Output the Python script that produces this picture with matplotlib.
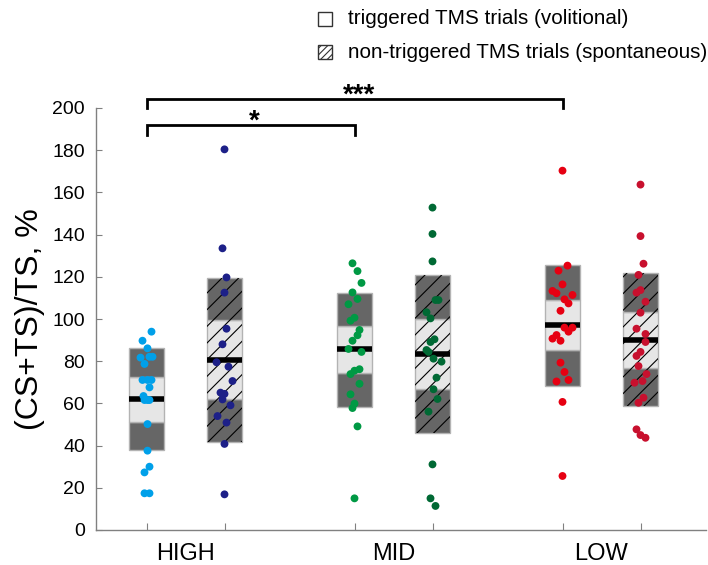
import matplotlib
matplotlib.use("Agg")
import matplotlib.pyplot as plt
from matplotlib.patches import Rectangle
import numpy as np

plt.rcParams['font.family'] = ['Liberation Sans', 'DejaVu Sans']
plt.rcParams['hatch.linewidth'] = 0.8

# ---------------- data ----------------
categories = ["HIGH", "MID", "LOW"]
conditions = ["triggered TMS trials (volitional)", "non-triggered TMS trials (spontaneous)"]

# box summaries: [outer low, inner low, centre, inner high, outer high]
high_trig_box = [37.9, 51.3, 62.1, 72.7, 86.4]
high_non_box = [41.6, 61.9, 80.7, 99.5, 119.6]
mid_trig_box = [58.4, 74.3, 85.6, 96.7, 112.5]
mid_non_box = [46.1, 66.7, 83.4, 99.8, 120.7]
low_trig_box = [68.2, 85.2, 97.0, 109.0, 125.4]
low_non_box = [58.8, 76.9, 90.2, 103.5, 121.6]

# individual subject values
high_trig = [94.0, 89.7, 86.1, 81.7, 82.1, 82.1, 78.7, 71.1, 71.1, 71.1, 67.6,
             63.5, 61.6, 61.6, 61.6, 50.2, 37.6, 30.0, 27.3, 17.4, 17.4]
high_non = [180.4, 133.5, 119.7, 112.5, 95.4, 88.0, 79.5, 77.4, 70.6, 65.1, 64.5,
            61.9, 59.1, 54.0, 50.9, 40.8, 16.9]
mid_trig = [126.4, 122.7, 117.1, 112.6, 109.5, 107.0, 100.6, 99.2, 94.8, 92.3, 89.7,
            85.8, 84.4, 76.2, 75.5, 73.9, 69.3, 64.3, 59.9, 57.8, 49.1, 15.0]
mid_non = [152.8, 140.3, 127.3, 109.0, 109.0, 103.2, 100.3, 90.4, 89.1, 85.3, 84.4,
           81.2, 79.8, 72.2, 66.7, 62.1, 56.1, 31.1, 15.0, 11.4]
low_trig = [170.3, 125.3, 122.9, 116.4, 113.3, 112.2, 111.4, 109.3, 107.4, 103.9, 95.9,
            95.9, 94.0, 92.4, 90.7, 89.7, 79.3, 74.9, 71.1, 70.4, 60.7, 25.6]
low_non = [163.7, 139.3, 126.2, 120.9, 113.7, 112.5, 108.2, 103.0, 95.4, 92.9, 89.1,
           84.4, 82.5, 77.7, 73.9, 70.6, 69.8, 62.7, 60.3, 47.7, 45.0, 43.7]

# horizontal jitter of each dot (pixels)
high_trig_jit = [5, -4, 1, -6, 3, 6, -2, -4, 1, 5, 3, -3, -2, 3, 1, 1, 1, 3, -2, -2, 3]
high_non_jit = [0, -2, 2, 0, 2, -2, -8, 4, 8, -4, 0, -2, 6, -7, 2, 0, 0]
mid_trig_jit = [-2, 3, 7, -2, 3, -6, 0, -4, 5, 3, -2, -6, 7, 5, 0, -4, 5, -4, 0, -2, 3, 0]
mid_non_jit = [0, 0, 0, 3, 6, -6, -2, 2, -2, -6, -4, 1, 9, 4, 1, 5, -4, 0, -2, 3]
low_trig_jit = [0, 5, -4, 0, -10, -6, 10, 2, 6, -2, 2, 10, 6, -6, -10, -2, -2, 2, 6, -6, 0, 0]
low_non_jit = [0, 0, 3, -2, 0, -4, 5, 0, -4, 5, 5, 0, -4, -2, 6, 2, -6, 3, -2, -4, 0, 5]

dot_colors = ["#00a0e9", "#1d2088", "#009944", "#006934", "#e60012", "#c8102e"]

groups = [
    (0, 0, high_trig_box, high_trig, high_trig_jit),
    (0, 1, high_non_box, high_non, high_non_jit),
    (1, 0, mid_trig_box, mid_trig, mid_trig_jit),
    (1, 1, mid_non_box, mid_non, mid_non_jit),
    (2, 0, low_trig_box, low_trig, low_trig_jit),
    (2, 1, low_non_box, low_non, low_non_jit),
]

# ---------------- figure ----------------
W, H = 708, 565
fig = plt.figure(figsize=(W / 100, H / 100), dpi=100)
ax = fig.add_axes([96 / W, 35 / H, (706 - 96) / W, (530 - 108) / H])

px = 1 / 208.0          # one pixel in x data units
offset = 39 * px
bw = 35 * px
dark = "#666666"
light = "#e6e6e6"
edge = "#b3b3b3"

box_centres = []
for i, (cat, cond, box, vals, jit) in enumerate(groups):
    xc = cat + (-offset if cond == 0 else offset)
    box_centres.append(xc)
    segs = [(box[0], box[1], dark), (box[1], box[3], light), (box[3], box[4], dark)]
    for b0, b1, col in segs:
        ax.bar(xc, b1 - b0, bottom=b0, width=bw, color=col, edgecolor=edge,
               linewidth=1.0, zorder=2)
        if cond == 1:
            ax.bar(xc, b1 - b0, bottom=b0, width=bw, color="none", edgecolor="black",
                   linewidth=0, hatch="//", zorder=2.5)
    ax.plot([xc - bw / 2, xc + bw / 2], [box[2], box[2]], color="black",
            linewidth=4.0, solid_capstyle="butt", zorder=3)
    xs = xc + np.array(jit) * px
    ax.scatter(xs, vals, s=32, color=dot_colors[i], edgecolors="none", zorder=4)

ax.set_xlim(-89.5 * px, 2 + 104.5 * px)
ax.set_ylim(0, 200)
ax.set_yticks(np.arange(0, 201, 20))
ax.set_xticks(box_centres)
ax.set_xticklabels([])
ax.set_xticks([0, 1, 2], minor=True)
ax.set_xticklabels(categories, minor=True, fontsize=17)
ax.tick_params(axis="x", which="minor", length=0, pad=9)
ax.tick_params(axis="x", which="major", direction="in", length=5, color="#808080")
ax.tick_params(axis="y", direction="in", length=4, color="#808080", labelsize=14, pad=8)
for s in ["top", "right"]:
    ax.spines[s].set_visible(False)
for s in ["left", "bottom"]:
    ax.spines[s].set_color("#808080")
    ax.spines[s].set_linewidth(1.0)
ax.set_ylabel("(CS+TS)/TS, %", fontsize=23, labelpad=5)

# significance brackets between triggered boxes
def bracket(x0, x1, ytop, ydrop, label):
    ax.plot([x0, x0, x1, x1], [ydrop, ytop, ytop, ydrop], color="black",
            linewidth=2.0, clip_on=False, zorder=5, solid_joinstyle="miter")
    ax.annotate(label, xy=((x0 + x1) / 2, ytop), xytext=(3, -2.5),
                textcoords="offset points", ha="center", va="baseline",
                fontsize=20, fontweight="bold", annotation_clip=False)

bracket(box_centres[0], box_centres[2], 192.0, 187.0, "*")
bracket(box_centres[0], box_centres[4], 204.3, 199.8, "***")

# legend (manual)
def fx(x):
    return x / W

def fy(y):
    return 1 - y / H

fig.add_artist(Rectangle((fx(318), fy(26)), 14 / W, 14 / H, transform=fig.transFigure,
                         facecolor="white", edgecolor="#333333", linewidth=1.0))
fig.add_artist(Rectangle((fx(318), fy(59)), 14 / W, 14 / H, transform=fig.transFigure,
                         facecolor="white", edgecolor="#333333", linewidth=1.0,
                         hatch="/////"))
fig.text(fx(348), fy(19), conditions[0], fontsize=14.9, va="center", ha="left")
fig.text(fx(348), fy(52), conditions[1], fontsize=14.9, va="center", ha="left")

fig.savefig("out.png", dpi=100)
